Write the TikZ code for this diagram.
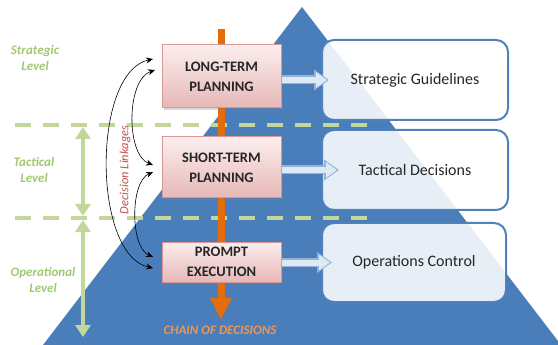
\documentclass[tikz,border=0pt]{standalone}
\usepackage{fontspec}
\setmainfont{Carlito}
\usepackage{xcolor}
\usepackage{tikz}
\usetikzlibrary{calc}
\usetikzlibrary{arrows.meta, shadows, positioning}

\definecolor{pyramidblue}{RGB}{74,126,187}
\definecolor{boxblue}{RGB}{79,129,189}
\definecolor{levelgreen}{RGB}{195,214,155}
\definecolor{leveltext}{RGB}{160,200,115}
\definecolor{chainorange}{RGB}{228,108,10}
\definecolor{chaintext}{RGB}{240,150,80}
\definecolor{linkred}{RGB}{192,80,77}
\definecolor{pinktop}{RGB}{252,238,238}
\definecolor{pinkbot}{RGB}{230,184,183}
\definecolor{pinkline}{RGB}{217,150,148}
\definecolor{arrowfill}{RGB}{222,233,246}
\definecolor{arrowline}{RGB}{149,179,215}

\tikzset{planbox/.style={draw=pinkline, line width=1pt, top color=pinktop, bottom color=pinkbot,
  minimum width=119pt, align=center, text=black!85,
  font=\fontsize{14.5}{20}\selectfont\bfseries,
  drop shadow={shadow xshift=2pt, shadow yshift=-2pt, opacity=0.3}},
outbox/.style={draw=boxblue, line width=2pt, rounded corners=12pt, fill=white, fill opacity=0.87,
  text opacity=1, minimum width=186pt, minimum height=80pt, text=black!85,
  font=\fontsize{16}{19}\selectfont},
leveldash/.style={draw=levelgreen, line width=4pt, dash pattern=on 16pt off 12pt},
levelarrow/.style={draw=levelgreen, line width=4pt,
  {Triangle[width=15pt,length=12pt]}-{Triangle[width=15pt,length=12pt]}},
leveltag/.style={text=leveltext, align=center, font=\fontsize{13}{16}\selectfont\bfseries\itshape},
link/.style={black, line width=0.6pt, {Stealth[length=7pt,width=6pt]}-{Stealth[length=7pt,width=6pt]}},
flowedge/.style={draw=arrowline, line width=9pt, -{Triangle[length=15pt,width=20pt]}},
flowcore/.style={draw=arrowfill, line width=6pt, shorten >=2pt, -{Triangle[length=11pt,width=15pt]}}}

\begin{document}
\begin{tikzpicture}[x=1pt,y=-1pt]
 \useasboundingbox (0,0) rectangle (558,345);
 \fill[pyramidblue] (302,7) -- (43,345) -- (558,345) -- (558,341) -- cycle;

 % level borders
 \draw[leveldash] (15,125) -- (372,125);
 \draw[leveldash] (15,218) -- (372,218);
 \draw[levelarrow] (83,127) -- (83,216);
 \draw[levelarrow] (83,220) -- (83,337);

 \node[leveltag] (strategic) at (35,58) {Strategic\\Level};
 \node[leveltag] (tactical) at (34,170) {Tactical\\Level};
 \node[leveltag] (operational) at (43,280) {Operational\\Level};

 % chain of decisions
 \coordinate (chaintop) at (221,29);
 \coordinate (chainend) at (221,320);
 \draw[chainorange, line width=7pt, -{Triangle[length=22pt,width=20pt]}] (chaintop) -- (chainend);
 \node[text=chaintext, font=\fontsize{13}{15}\selectfont\bfseries\itshape] (chainlabel) at (220,330) {CHAIN OF DECISIONS};

 \node[planbox, minimum height=63pt] (lt) at (221.5,76.5) {LONG-TERM\\PLANNING};
 \node[planbox, minimum height=61pt] (st) at (221.5,167.5) {SHORT-TERM\\PLANNING};
 \node[planbox, minimum height=40pt] (pe) at (221.5,262) {PROMPT\\EXECUTION};

 \node[outbox] (sg) at (415,80) {Strategic Guidelines};
 \node[outbox] (td) at (415,170) {Tactical Decisions};
 \node[outbox, minimum width=184pt, minimum height=79pt] (oc) at (414,262.5) {Operations Control};

 \coordinate (sgtip) at ([xshift=8pt]sg.west);
 \coordinate (tdtip) at ([xshift=18pt]td.west);
 \coordinate (octip) at ([xshift=11pt]oc.west);
 \draw[flowedge] (lt.east |- sgtip) -- (sgtip);
 \draw[flowcore] (lt.east |- sgtip) -- (sgtip);
 \draw[flowedge] (st.east |- tdtip) -- (tdtip);
 \draw[flowcore] (st.east |- tdtip) -- (tdtip);
 \draw[flowedge] (pe.east |- octip) -- (octip);
 \draw[flowcore] (pe.east |- octip) -- (octip);

 % decision linkages
 \coordinate (lt1) at (153,59);
 \coordinate (lt2) at (155,70);
 \coordinate (st1) at (153,165);
 \coordinate (st2) at (153,172);
 \coordinate (pe1) at (153,257);
 \coordinate (pe2) at (153,268);
 \draw[link] (lt1) .. controls (92,72) and (92,255) .. (pe2);
 \draw[link] (lt2) .. controls (126,80) and (126,155) .. (st1);
 \draw[link] (st2) .. controls (130,182) and (130,247) .. (pe1);
 \node[rotate=90, text=linkred, font=\fontsize{12.5}{15}\selectfont\itshape] (linkages) at (125,170) {Decision Linkages};

\end{tikzpicture}
\end{document}
